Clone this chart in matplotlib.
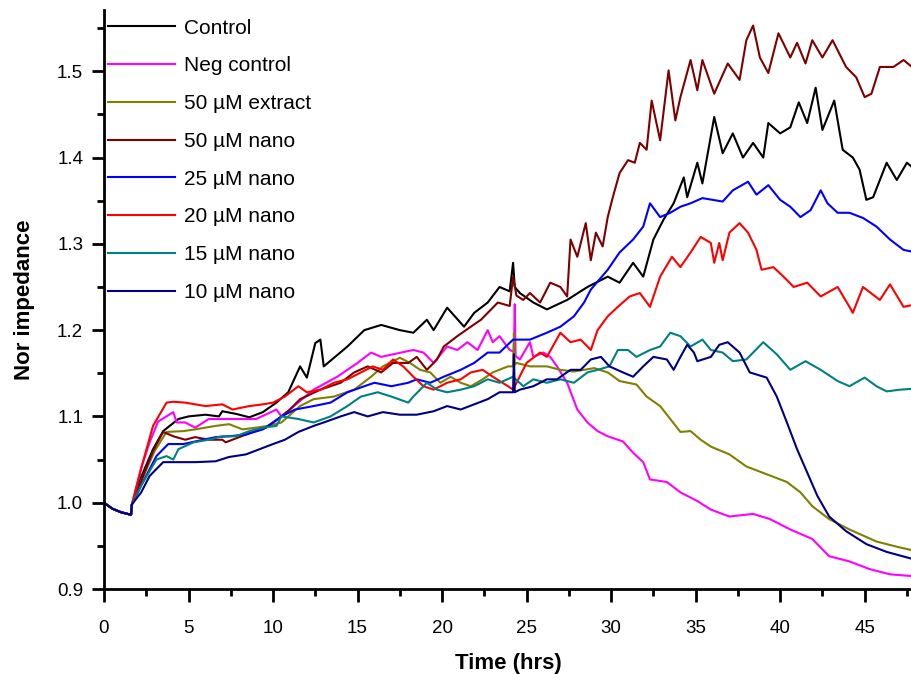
import numpy as np
import matplotlib
matplotlib.use("Agg")
import matplotlib.pyplot as plt
from matplotlib.ticker import MultipleLocator

plt.rcParams['font.family'] = ['Liberation Sans', 'DejaVu Sans']

# shared baseline before treatment (hrs, normalised impedance)
start = [(0.0, 1.0), (0.5, 0.993), (1.0, 0.989), (1.6, 0.986)]

control = [(1.65, 0.998), (2.2, 1.03), (2.9, 1.062), (3.5, 1.083), (4.4, 1.097), (5.0, 1.10),
           (6.0, 1.102), (6.8, 1.10), (7.0, 1.106), (7.8, 1.103), (8.6, 1.099), (9.4, 1.105),
           (10.2, 1.116), (10.9, 1.128), (11.6, 1.158), (12.0, 1.145), (12.5, 1.185), (12.8, 1.189),
           (13.0, 1.158), (14.4, 1.181), (15.4, 1.20), (16.4, 1.206), (17.5, 1.20), (18.3, 1.197),
           (19.1, 1.212), (19.5, 1.20), (20.3, 1.226), (21.3, 1.204), (21.9, 1.22), (22.7, 1.232),
           (23.4, 1.25), (24.0, 1.245), (24.2, 1.278), (24.3, 1.25), (24.6, 1.243), (25.4, 1.232),
           (26.2, 1.224), (27.4, 1.235), (28.6, 1.25), (29.8, 1.262), (30.5, 1.255), (31.3, 1.278),
           (31.9, 1.262), (32.5, 1.305), (33.1, 1.328), (33.7, 1.347), (34.3, 1.377), (34.5, 1.354),
           (35.1, 1.394), (35.4, 1.37), (36.1, 1.447), (36.6, 1.405), (37.2, 1.428), (37.8, 1.40),
           (38.4, 1.417), (39.0, 1.40), (39.3, 1.44), (40.0, 1.428), (40.6, 1.435), (41.1, 1.464),
           (41.6, 1.44), (42.1, 1.481), (42.5, 1.432), (43.2, 1.466), (43.7, 1.409), (44.3, 1.40),
           (44.7, 1.386), (45.1, 1.351), (45.5, 1.354), (46.3, 1.394), (46.9, 1.374), (47.5, 1.394),
           (47.8, 1.389)]

neg_control = [(1.65, 0.998), (2.2, 1.04), (2.7, 1.07), (3.2, 1.094), (4.1, 1.105), (4.3, 1.093),
               (4.8, 1.093), (5.4, 1.087), (6.2, 1.097), (7.8, 1.097), (9.0, 1.097), (10.2, 1.108),
               (10.5, 1.10), (12.4, 1.131), (13.8, 1.146), (15.0, 1.162), (15.8, 1.174), (16.4, 1.169),
               (17.1, 1.172), (18.3, 1.177), (18.9, 1.174), (19.5, 1.162), (20.3, 1.181), (20.9, 1.177),
               (21.5, 1.186), (22.1, 1.177), (22.7, 1.20), (23.0, 1.186), (23.4, 1.193), (24.0, 1.177),
               (24.25, 1.175), (24.3, 1.23), (24.35, 1.17), (24.6, 1.166), (25.2, 1.186), (25.4, 1.169),
               (26.0, 1.174), (26.4, 1.169), (26.8, 1.158), (27.4, 1.139), (28.0, 1.108), (28.6, 1.093),
               (29.2, 1.083), (29.8, 1.077), (30.7, 1.071), (31.3, 1.058), (31.9, 1.047), (32.3, 1.027),
               (33.3, 1.024), (34.1, 1.012), (35.1, 1.002), (35.9, 0.992), (37.0, 0.984), (38.4, 0.987),
               (39.4, 0.981), (40.6, 0.969), (41.9, 0.958), (42.9, 0.938), (44.1, 0.932), (45.3, 0.923),
               (46.5, 0.917), (47.8, 0.915)]

extract_50 = [(1.65, 0.998), (2.2, 1.025), (3.0, 1.06), (3.7, 1.082), (4.7, 1.083), (5.4, 1.085),
              (6.6, 1.089), (7.4, 1.091), (8.2, 1.085), (9.0, 1.087), (9.7, 1.089), (10.5, 1.093),
              (11.6, 1.112), (12.4, 1.12), (13.6, 1.123), (14.8, 1.131), (15.8, 1.146), (16.5, 1.158),
              (17.5, 1.168), (18.1, 1.162), (18.7, 1.154), (19.3, 1.151), (19.9, 1.139), (20.5, 1.146),
              (21.1, 1.139), (21.7, 1.135), (22.4, 1.143), (23.0, 1.151), (23.9, 1.158), (24.2, 1.158),
              (24.25, 1.197), (24.3, 1.16), (24.4, 1.162), (25.2, 1.158), (26.2, 1.158), (27.0, 1.154),
              (27.8, 1.152), (29.0, 1.156), (29.8, 1.151), (30.5, 1.141), (31.5, 1.137), (32.1, 1.123),
              (32.9, 1.112), (33.5, 1.097), (34.1, 1.082), (34.7, 1.083), (35.3, 1.073), (35.9, 1.065),
              (37.0, 1.056), (38.0, 1.042), (39.2, 1.033), (40.4, 1.024), (41.2, 1.012), (41.9, 0.996),
              (42.9, 0.981), (44.1, 0.969), (45.7, 0.955), (46.9, 0.949), (47.8, 0.945)]

nano_50 = [(1.65, 0.998), (2.2, 1.025), (2.9, 1.06), (3.5, 1.082), (4.1, 1.077), (4.8, 1.073),
           (5.4, 1.076), (6.2, 1.073), (7.0, 1.073), (7.2, 1.07), (8.0, 1.076), (8.8, 1.082),
           (9.6, 1.087), (10.3, 1.097), (11.0, 1.108), (11.6, 1.12), (12.8, 1.131), (14.0, 1.139),
           (14.8, 1.151), (15.6, 1.158), (16.4, 1.151), (17.1, 1.162), (18.0, 1.162), (18.5, 1.169),
           (19.1, 1.154), (19.7, 1.166), (20.1, 1.181), (20.9, 1.193), (21.7, 1.204), (22.3, 1.212),
           (22.9, 1.224), (23.3, 1.232), (24.0, 1.228), (24.2, 1.262), (24.4, 1.24), (24.8, 1.235),
           (25.2, 1.243), (25.8, 1.232), (26.4, 1.255), (27.0, 1.25), (27.4, 1.239), (27.6, 1.305),
           (28.0, 1.285), (28.5, 1.324), (28.8, 1.281), (29.1, 1.313), (29.5, 1.297), (29.8, 1.331),
           (30.1, 1.354), (30.5, 1.382), (31.0, 1.397), (31.4, 1.394), (31.7, 1.417), (32.1, 1.409),
           (32.4, 1.466), (32.9, 1.42), (33.4, 1.501), (33.8, 1.443), (34.1, 1.47), (34.7, 1.513),
           (35.1, 1.478), (35.4, 1.513), (36.1, 1.474), (36.9, 1.509), (37.6, 1.49), (38.0, 1.536),
           (38.4, 1.553), (38.8, 1.516), (39.3, 1.498), (39.9, 1.544), (40.6, 1.516), (41.0, 1.533),
           (41.5, 1.509), (41.9, 1.536), (42.5, 1.516), (43.1, 1.536), (43.9, 1.505), (44.5, 1.493),
           (45.0, 1.47), (45.4, 1.474), (45.9, 1.505), (46.7, 1.505), (47.3, 1.513), (47.8, 1.505)]

nano_25 = [(1.65, 0.998), (2.2, 1.02), (3.1, 1.054), (3.8, 1.068), (4.7, 1.068), (5.4, 1.071),
           (6.6, 1.076), (7.4, 1.077), (8.4, 1.079), (9.4, 1.085), (10.5, 1.10), (11.3, 1.108),
           (12.4, 1.112), (13.4, 1.116), (14.4, 1.128), (15.4, 1.135), (16.0, 1.139), (17.0, 1.135),
           (18.0, 1.139), (18.5, 1.143), (19.3, 1.139), (20.1, 1.146), (21.1, 1.154), (21.9, 1.162),
           (22.7, 1.174), (23.4, 1.174), (24.2, 1.189), (25.2, 1.189), (26.2, 1.197), (27.0, 1.204),
           (27.8, 1.216), (28.4, 1.232), (28.8, 1.247), (29.8, 1.27), (30.5, 1.29), (31.3, 1.305),
           (31.9, 1.32), (32.3, 1.347), (32.9, 1.331), (33.5, 1.336), (34.1, 1.343), (34.7, 1.347),
           (35.4, 1.353), (36.6, 1.349), (37.2, 1.362), (38.1, 1.372), (38.6, 1.357), (39.3, 1.368),
           (40.0, 1.351), (40.6, 1.343), (41.2, 1.331), (41.8, 1.339), (42.4, 1.362), (42.8, 1.347),
           (43.4, 1.336), (44.1, 1.336), (44.9, 1.33), (45.7, 1.32), (46.5, 1.305), (47.3, 1.293),
           (47.8, 1.291)]

nano_20 = [(1.65, 0.998), (2.2, 1.04), (2.9, 1.089), (3.7, 1.116), (4.1, 1.117), (4.8, 1.116),
           (6.0, 1.112), (7.0, 1.114), (7.6, 1.108), (8.6, 1.112), (9.4, 1.114), (10.0, 1.116),
           (10.7, 1.123), (11.5, 1.135), (12.0, 1.128), (12.8, 1.131), (13.6, 1.139), (14.4, 1.143),
           (15.2, 1.151), (15.9, 1.158), (16.5, 1.154), (17.1, 1.166), (17.7, 1.158), (18.3, 1.146),
           (18.9, 1.135), (19.5, 1.131), (20.3, 1.139), (21.1, 1.143), (21.7, 1.151), (22.4, 1.154),
           (23.0, 1.146), (23.9, 1.135), (24.2, 1.131), (25.0, 1.162), (25.8, 1.174), (26.2, 1.169),
           (27.0, 1.197), (27.6, 1.186), (28.2, 1.189), (28.8, 1.177), (29.2, 1.20), (29.8, 1.216),
           (30.4, 1.227), (31.1, 1.239), (31.7, 1.243), (32.3, 1.227), (32.9, 1.262), (33.6, 1.285),
           (34.1, 1.273), (34.7, 1.29), (35.3, 1.308), (35.9, 1.301), (36.1, 1.278), (36.4, 1.301),
           (36.6, 1.281), (37.0, 1.313), (37.6, 1.324), (38.1, 1.313), (38.6, 1.293), (38.9, 1.27),
           (39.6, 1.273), (40.2, 1.262), (40.8, 1.25), (41.6, 1.255), (42.4, 1.239), (43.4, 1.25),
           (44.1, 1.227), (44.3, 1.22), (44.9, 1.25), (45.9, 1.235), (46.5, 1.253), (47.3, 1.227),
           (47.8, 1.229)]

nano_15 = [(1.65, 0.998), (2.2, 1.02), (3.1, 1.05), (3.7, 1.054), (4.1, 1.05), (4.4, 1.062),
           (5.3, 1.07), (6.2, 1.073), (7.0, 1.077), (7.8, 1.077), (8.6, 1.083), (9.4, 1.087),
           (10.2, 1.089), (10.5, 1.10), (11.5, 1.097), (12.4, 1.093), (13.4, 1.10), (14.4, 1.112),
           (15.2, 1.123), (16.2, 1.128), (17.0, 1.123), (18.0, 1.116), (18.3, 1.123), (19.1, 1.139),
           (19.7, 1.131), (20.3, 1.128), (21.1, 1.131), (21.9, 1.135), (22.7, 1.143), (23.4, 1.139),
           (24.2, 1.146), (24.8, 1.135), (25.4, 1.143), (26.2, 1.139), (27.0, 1.143), (27.8, 1.139),
           (28.6, 1.151), (29.2, 1.154), (29.9, 1.158), (30.4, 1.177), (31.0, 1.177), (31.5, 1.169),
           (32.3, 1.177), (32.9, 1.181), (33.5, 1.197), (34.1, 1.193), (34.7, 1.181), (35.4, 1.189),
           (35.9, 1.177), (36.6, 1.174), (37.2, 1.164), (38.0, 1.166), (39.0, 1.186), (39.8, 1.172),
           (40.6, 1.154), (41.5, 1.164), (42.4, 1.154), (43.4, 1.141), (44.1, 1.135), (45.0, 1.145),
           (45.7, 1.135), (46.3, 1.129), (47.1, 1.131), (47.8, 1.132)]

nano_10 = [(1.65, 0.998), (2.2, 1.012), (2.7, 1.031), (3.5, 1.047), (4.3, 1.047), (5.4, 1.047),
           (6.6, 1.048), (7.4, 1.053), (8.4, 1.056), (9.2, 1.062), (10.0, 1.068), (10.7, 1.073),
           (11.5, 1.082), (12.4, 1.089), (13.0, 1.093), (14.0, 1.10), (14.8, 1.105), (15.6, 1.10),
           (16.5, 1.105), (17.5, 1.102), (18.5, 1.102), (19.5, 1.106), (20.3, 1.112), (21.1, 1.108),
           (21.9, 1.114), (22.7, 1.12), (23.4, 1.128), (23.9, 1.128), (24.2, 1.128), (24.25, 1.172),
           (24.3, 1.128), (24.6, 1.131), (25.4, 1.135), (26.2, 1.143), (26.8, 1.143), (27.6, 1.154),
           (28.2, 1.154), (28.8, 1.166), (29.4, 1.169), (29.9, 1.158), (30.7, 1.151), (31.3, 1.146),
           (31.9, 1.158), (32.5, 1.169), (33.3, 1.166), (33.7, 1.154), (34.1, 1.169), (34.5, 1.183),
           (34.9, 1.174), (35.1, 1.164), (35.9, 1.169), (36.4, 1.183), (36.9, 1.186), (37.6, 1.174),
           (38.2, 1.151), (39.2, 1.145), (39.8, 1.123), (40.4, 1.093), (41.0, 1.062), (41.6, 1.035),
           (42.2, 1.008), (42.9, 0.984), (43.9, 0.967), (45.1, 0.952), (46.3, 0.943), (47.8, 0.935)]

series = [
    ("Control", control, "#000000"),
    ("Neg control", neg_control, "#ff00ff"),
    ("50 \u00b5M extract", extract_50, "#808000"),
    ("50 \u00b5M nano", nano_50, "#800000"),
    ("25 \u00b5M nano", nano_25, "#0000ff"),
    ("20 \u00b5M nano", nano_20, "#ff0000"),
    ("15 \u00b5M nano", nano_15, "#008080"),
    ("10 \u00b5M nano", nano_10, "#000080"),
]

fig = plt.figure(figsize=(9.12, 6.74), dpi=100)
ax = fig.add_axes([104 / 912, 1 - 589 / 674, 1 - 104 / 912, (589 - 10) / 674])

for label, pts, color in series:
    arr = np.array(start + pts)
    ax.plot(arr[:, 0], arr[:, 1], color=color, lw=1.5, label=label)

ax.set_xlim(0, 47.8)
ax.set_ylim(0.9, 1.571)
ax.xaxis.set_major_locator(MultipleLocator(5))
ax.xaxis.set_minor_locator(MultipleLocator(2.5))
ax.yaxis.set_major_locator(MultipleLocator(0.1))
ax.yaxis.set_minor_locator(MultipleLocator(0.05))
ax.yaxis.set_major_formatter(plt.FormatStrFormatter('%.1f'))

for side in ['top', 'right']:
    ax.spines[side].set_visible(False)
for side in ['left', 'bottom']:
    ax.spines[side].set_linewidth(2)

ax.tick_params(which='major', direction='out', length=9, width=2, labelsize=13.5)
ax.tick_params(which='minor', direction='out', length=5, width=2)
ax.tick_params(axis='x', which='major', pad=13)
ax.tick_params(axis='y', which='major', pad=6)

ax.set_xlabel('Time (hrs)', fontsize=16, fontweight='bold', labelpad=12)
ax.set_ylabel('Nor impedance', fontsize=16, fontweight='bold', labelpad=16)

ax.legend(loc='upper left', bbox_to_anchor=(0.005, 0.985), frameon=False, fontsize=15,
          handlelength=3.2, handletextpad=0.45, labelspacing=0.9, borderpad=0,
          borderaxespad=0)

fig.savefig('out.png', dpi=100)
